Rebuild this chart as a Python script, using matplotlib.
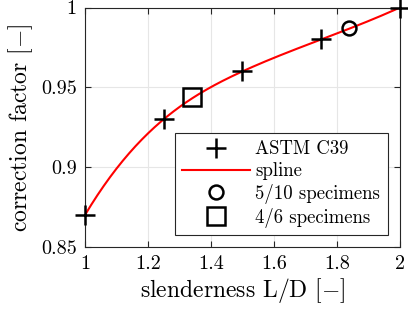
import numpy as np
import matplotlib
matplotlib.use('Agg')
import matplotlib.pyplot as plt

plt.rcParams['font.family'] = 'serif'
plt.rcParams['font.serif'] = ['cmr10']
plt.rcParams['mathtext.fontset'] = 'cm'
plt.rcParams['axes.formatter.use_mathtext'] = True

# data
astm_x = [1.0, 1.25, 1.5, 1.75, 2.0]
astm_y = [0.87, 0.93, 0.96, 0.98, 1.0]
spec_5_10 = (1.84, 0.987)
spec_4_6 = (1.34, 0.944)

# not-a-knot cubic spline through ASTM points (single interior knot at 1.5)
xa = np.array(astm_x)
ya = np.array(astm_y)
knot = xa[2]
A = np.column_stack([np.ones_like(xa), xa, xa**2, xa**3, np.clip(xa - knot, 0, None)**3])
coef = np.linalg.solve(A, ya)
xs = np.linspace(1, 2, 200)
ys = coef[0] + coef[1]*xs + coef[2]*xs**2 + coef[3]*xs**3 + coef[4]*np.clip(xs - knot, 0, None)**3

fig = plt.figure(figsize=(4.08, 3.14), dpi=100)
ax = fig.add_axes([0.208, 0.213, 0.772, 0.763])

ax.plot(astm_x, astm_y, 'k+', markersize=14, markeredgewidth=1.8, label='ASTM C39',
        zorder=4, clip_on=False)
ax.plot(xs, ys, '-', color='red', linewidth=1.5, label='spline', zorder=3)
ax.plot(*spec_5_10, 'o', color='k', markerfacecolor='none', markersize=10,
        markeredgewidth=1.8, label='5/10 specimens', zorder=5, clip_on=False)
ax.plot(*spec_4_6, 's', color='k', markerfacecolor='none', markersize=13,
        markeredgewidth=1.8, label='4/6 specimens', zorder=5, clip_on=False)

ax.set_xlim(1, 2)
ax.set_ylim(0.85, 1)
ax.set_xticks([1, 1.2, 1.4, 1.6, 1.8, 2])
ax.set_xticklabels(['1', '1.2', '1.4', '1.6', '1.8', '2'])
ax.set_yticks([0.85, 0.9, 0.95, 1])
ax.set_yticklabels(['0.85', '0.9', '0.95', '1'])
ax.tick_params(direction='in', top=True, right=True, labelsize=14.5, length=4,
               color='#262626', pad=6)
for s in ax.spines.values():
    s.set_color('#262626')
    s.set_linewidth(0.8)
ax.grid(True, color='#e6e6e6', linewidth=0.8)
ax.set_axisbelow(True)

ax.set_xlabel(r'slenderness L/D $[-]$', fontsize=17, labelpad=2)
ax.set_ylabel(r'correction factor $[-]$', fontsize=17, labelpad=4)

leg = ax.legend(loc='lower right', bbox_to_anchor=(0.962, 0.05), borderaxespad=0,
                fontsize=13.5, fancybox=False, framealpha=1, edgecolor='#262626',
                handlelength=3.6, handletextpad=0.3, labelspacing=0.2,
                borderpad=0.4)
leg.get_frame().set_linewidth(0.8)

fig.savefig('out.png', dpi=100)
